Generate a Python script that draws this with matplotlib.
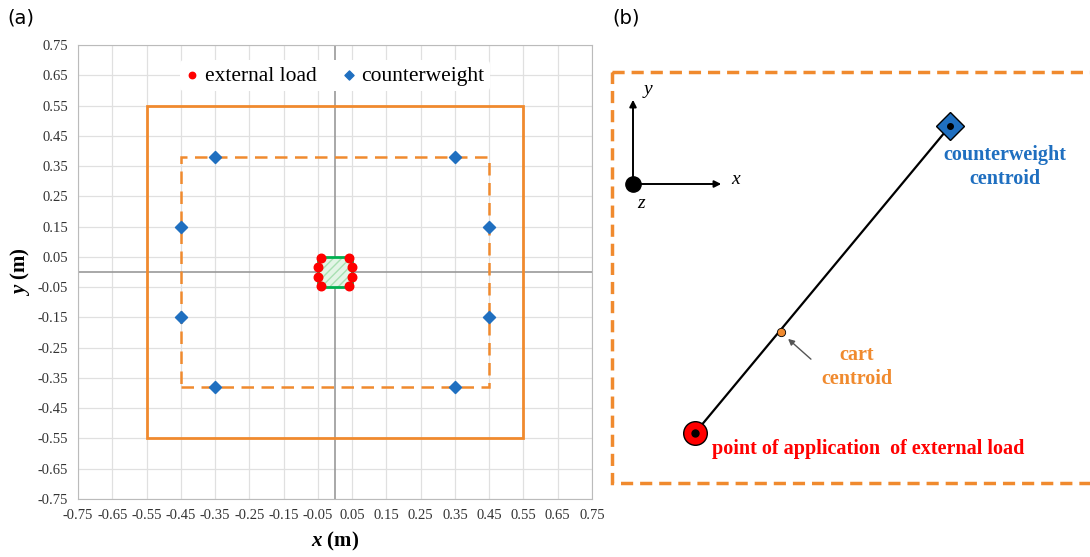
import matplotlib.pyplot as plt
import matplotlib.patches as mpatches
import numpy as np

plt.rcParams["mathtext.fontset"] = "custom"
plt.rcParams["mathtext.rm"] = "Liberation Serif"
plt.rcParams["mathtext.it"] = "Liberation Serif:italic"
plt.rcParams["mathtext.bf"] = "Liberation Serif:bold"
plt.rcParams["mathtext.bfit"] = "Liberation Serif:italic:bold"
plt.rcParams["hatch.linewidth"] = 1.0

ORANGE = "#F08A2E"
BLUE = "#1F6FC0"
RED = "#FF0000"
GREEN = "#00B050"
SERIF = "Liberation Serif"

# --- data (a) ---
ticks = np.round(np.arange(-0.75, 0.76, 0.1), 2)
outer_half = 0.55                 # solid square half-width
inner_half_x, inner_half_y = 0.45, 0.38   # dashed rectangle
load_box_half = 0.05              # green square
load_x = [-0.04, 0.04, -0.05, 0.05, -0.05, 0.05, -0.04, 0.04]
load_y = [0.045, 0.045, 0.015, 0.015, -0.015, -0.015, -0.045, -0.045]
cw_x = [-0.35, 0.35, -0.45, 0.45, -0.45, 0.45, -0.35, 0.35]
cw_y = [0.38, 0.38, 0.15, 0.15, -0.15, -0.15, -0.38, -0.38]

# --- data (b), in figure pixel coordinates ---
origin = (633, 184)
y_tip = (633, 97)
x_tip = (724, 184)
load_pt = (695, 433)
cw_pt = (950, 126)
cart_pt = (781, 332)

fig = plt.figure(figsize=(10.9, 5.57), dpi=100)

# ---------------- panel (a) ----------------
ax = fig.add_axes([78 / 1090, 1 - 499 / 557, (592 - 78) / 1090, (499 - 45) / 557])
ax.set_xlim(-0.75, 0.75)
ax.set_ylim(-0.75, 0.75)
ax.set_xticks(ticks)
ax.set_yticks(ticks)
ax.set_xticklabels([f"{t:.2f}" for t in ticks], fontfamily=SERIF, fontsize=10.5, color="#333333")
ax.set_yticklabels([f"{t:.2f}" for t in ticks], fontfamily=SERIF, fontsize=10.5, color="#333333")
ax.tick_params(length=0, pad=7)
ax.grid(True, color="#e0e0e0", linewidth=0.9)
ax.set_axisbelow(True)
for s in ax.spines.values():
    s.set_color("#bbbbbb")
ax.axhline(0, color="#999999", linewidth=1.2, zorder=1)
ax.axvline(0, color="#999999", linewidth=1.2, zorder=1)

ax.add_patch(mpatches.Rectangle((-outer_half, -outer_half), 2 * outer_half, 2 * outer_half,
                                fill=False, edgecolor=ORANGE, linewidth=2, zorder=2))
ax.add_patch(mpatches.Rectangle((-inner_half_x, -inner_half_y), 2 * inner_half_x, 2 * inner_half_y,
                                fill=False, edgecolor=ORANGE, linewidth=1.8,
                                linestyle=(0, (5, 3)), zorder=2))
ax.add_patch(mpatches.Rectangle((-load_box_half, -load_box_half), 2 * load_box_half, 2 * load_box_half,
                                facecolor="#e3f5e6", edgecolor="#a8e0b2", hatch="////",
                                linewidth=0, zorder=2))
ax.add_patch(mpatches.Rectangle((-load_box_half, -load_box_half), 2 * load_box_half, 2 * load_box_half,
                                fill=False, edgecolor=GREEN, linewidth=2, zorder=3))

ax.scatter(load_x, load_y, s=38, color=RED, zorder=4, label="external load")
ax.scatter(cw_x, cw_y, s=38, marker="D", color=BLUE, zorder=4, label="counterweight")

leg = ax.legend(loc="upper center", bbox_to_anchor=(0.5, 0.99), ncol=2, frameon=True,
                prop={"family": SERIF, "size": 15.5}, handlelength=0.6, handletextpad=0.3,
                columnspacing=1.2, markerscale=0.75, borderpad=0.25)
leg.get_frame().set_edgecolor("none")
leg.get_frame().set_alpha(1)

ax.set_xlabel(r"$\mathbfit{x}$ (m)", fontfamily=SERIF, fontweight="bold", fontsize=15, labelpad=6)
ax.set_ylabel(r"$\mathbfit{y}$ (m)", fontfamily=SERIF, fontweight="bold", fontsize=15, labelpad=4)

fig.text(7 / 1090, 1 - 18 / 557, "(a)", fontsize=14, va="center", ha="left")
fig.text(612 / 1090, 1 - 18 / 557, "(b)", fontsize=14, va="center", ha="left")

# ---------------- panel (b) ----------------
bx = fig.add_axes([600 / 1090, 0, 490 / 1090, 1])
bx.set_xlim(600, 1090)
bx.set_ylim(557, 0)
bx.axis("off")

bx.add_patch(mpatches.Rectangle((612, 72), 600, 411, fill=False, edgecolor=ORANGE,
                                linewidth=2.5, linestyle=(0, (3.5, 2)), clip_on=False))

# coordinate triad
bx.annotate("", xy=y_tip, xytext=origin,
            arrowprops=dict(arrowstyle="-|>", color="black", lw=1.4, mutation_scale=10))
bx.annotate("", xy=x_tip, xytext=origin,
            arrowprops=dict(arrowstyle="-|>", color="black", lw=1.4, mutation_scale=10))
bx.plot(*origin, "o", color="black", markersize=11)
bx.text(y_tip[0] + 15, y_tip[1] - 7, "y", fontfamily=SERIF, style="italic", fontsize=14, ha="center", va="center")
bx.text(x_tip[0] + 12, x_tip[1] - 4, "x", fontfamily=SERIF, style="italic", fontsize=14, ha="center", va="center")
bx.text(origin[0] + 8, origin[1] + 20, "z", fontfamily=SERIF, style="italic", fontsize=14, ha="center", va="center")

# line load -> counterweight
bx.plot([load_pt[0], cw_pt[0]], [load_pt[1], cw_pt[1]], color="black", lw=1.6, zorder=2)
bx.plot(*cw_pt, "D", color=BLUE, markeredgecolor="black", markersize=14, zorder=3)
bx.plot(*cw_pt, "o", color="black", markersize=4, zorder=4)
bx.plot(*load_pt, "o", color=RED, markeredgecolor="black", markersize=17, zorder=3)
bx.plot(*load_pt, "o", color="black", markersize=5, zorder=4)
bx.plot(*cart_pt, "o", color=ORANGE, markeredgecolor="black", markeredgewidth=0.6, markersize=6, zorder=4)

bx.annotate("", xy=(cart_pt[0] + 5, cart_pt[1] + 5), xytext=(cart_pt[0] + 32, cart_pt[1] + 29),
            arrowprops=dict(arrowstyle="-|>", color="#555555", lw=1, mutation_scale=9))

bx.text(857, 367, "cart\ncentroid", color=ORANGE, fontfamily=SERIF, fontweight="bold",
        fontsize=14.5, ha="center", va="center", linespacing=1.25)
bx.text(1005, 167, "counterweight\ncentroid", color=BLUE, fontfamily=SERIF, fontweight="bold",
        fontsize=14.5, ha="center", va="center", linespacing=1.25)
bx.text(868, 449, "point of application  of external load", color=RED, fontfamily=SERIF,
        fontweight="bold", fontsize=14.5, ha="center", va="center")

fig.savefig("out.png", dpi=100)
